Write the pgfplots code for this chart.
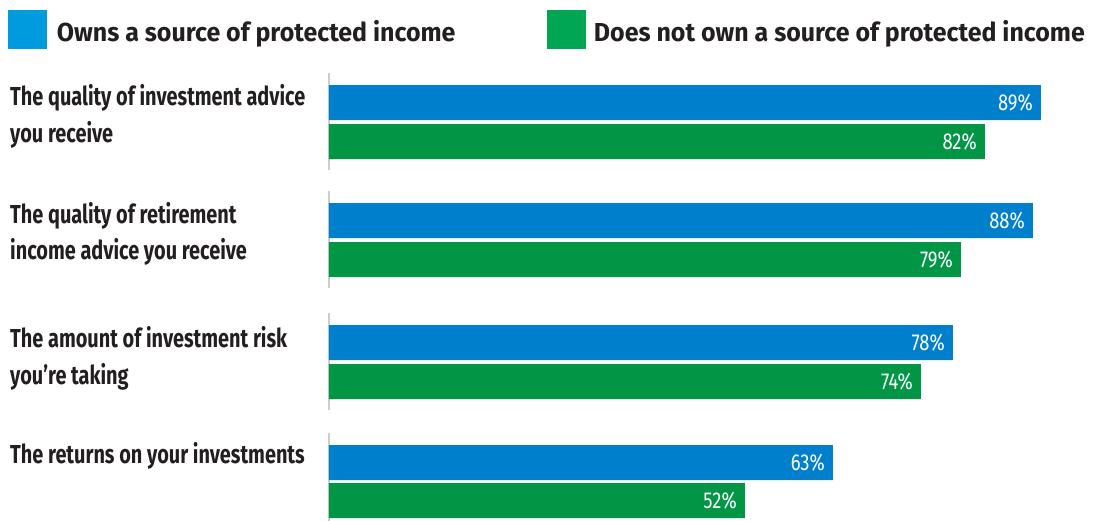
\documentclass[border=0pt]{standalone}
\usepackage{pgfplots}
\pgfplotsset{compat=1.18}
\usepackage{fontspec}
\setmainfont{Fira Sans}
\newfontfamily\labfont[FakeStretch=0.765]{Fira Sans}
\newfontfamily\valfont[FakeStretch=0.8]{Fira Sans}
\newfontfamily\legfont[FakeStretch=0.96]{Fira Sans}
\definecolor{barblue}{RGB}{0,128,204}
\definecolor{bargreen}{RGB}{0,150,69}
\definecolor{legblue}{RGB}{0,155,222}
\definecolor{leggreen}{RGB}{0,166,81}
\definecolor{textdark}{RGB}{35,31,32}
\definecolor{axgray}{RGB}{205,205,205}
\tikzset{lab/.style={anchor=base west, inner sep=0pt, text=textdark,
    font=\labfont\bfseries\fontsize{26bp}{37bp}\selectfont}}
\begin{document}
\begin{tikzpicture}
\path[use as bounding box] (-329bp,0) rectangle (772bp,521bp);
\begin{axis}[
  x=8bp, y=1bp, y dir=reverse,
  xmin=0, xmax=96.5, ymin=0, ymax=521,
  hide axis, clip=false,
  bar width=35bp,
  legend columns=2,
  legend style={draw=none, fill=none, inner sep=0pt, outer sep=0pt,
    at={(-0.4158,0.98177)}, anchor=north west,
    nodes={inner sep=0pt, text=textdark, font=\legfont\bfseries\fontsize{26bp}{30bp}\selectfont},
    /tikz/column sep=0pt},
  legend image code/.code={\fill[#1] (0bp,-17bp) rectangle (39bp,22.5bp);},
  vals/.style={xbar, bar shift=0pt, draw=none, forget plot, point meta=x,
    nodes near coords={\pgfmathprintnumber[assume math mode=true]{\pgfplotspointmeta}\%},
    nodes near coords style={anchor=east, xshift=-8bp, inner sep=0pt, text=white,
      font=\valfont\fontsize{23bp}{23bp}\selectfont}},
]
\addlegendimage{fill=legblue, draw=none}
\addlegendentry{\makebox[500bp][l]{\hspace{10bp}Owns a source of protected income}}
\addlegendimage{fill=leggreen, draw=none}
\addlegendentry{\hspace{8bp}Does not own a source of protected income}

% gray axis segments
\addplot[draw=axgray, line width=2bp, forget plot] coordinates {(0,73) (0,170)};
\addplot[draw=axgray, line width=2bp, forget plot] coordinates {(0,191) (0,288)};
\addplot[draw=axgray, line width=2bp, forget plot] coordinates {(0,313) (0,410)};
\addplot[draw=axgray, line width=2bp, forget plot] coordinates {(0,433) (0,521)};

% Owns a source of protected income
\addplot[vals, fill=barblue] coordinates {(89,102.5) (88,220.5) (78,342.5) (63,462.5)};
% Does not own a source of protected income
\addplot[vals, fill=bargreen] coordinates {(82,141.5) (79,259.5) (74,381.5) (52,500.5)};

\node[lab] at (axis cs:-39.875,105) {The quality of investment advice};
\node[lab] at (axis cs:-39.875,142) {you receive};
\node[lab] at (axis cs:-39.875,223) {The quality of retirement};
\node[lab] at (axis cs:-39.875,259) {income advice you receive};
\node[lab] at (axis cs:-39.875,347) {The amount of investment risk};
\node[lab] at (axis cs:-39.875,384) {you’re taking};
\node[lab] at (axis cs:-39.875,463) {The returns on your investments};
\end{axis}
\end{tikzpicture}
\end{document}
